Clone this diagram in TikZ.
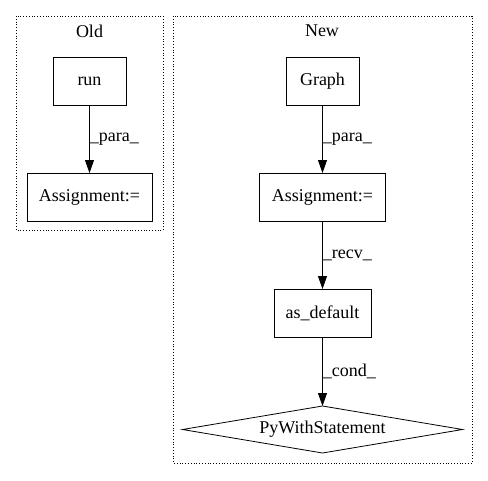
\documentclass[tikz,border=0pt]{standalone}
\usepackage{fontspec}
\setmainfont{Liberation Serif}
\usetikzlibrary{arrows.meta,shapes.geometric}
\tikzset{
  box/.style={draw,thick,outer sep=0,inner sep=1,minimum width=#1,minimum height=48},
  cond/.style={draw,thick,diamond,aspect=6,outer sep=0,inner sep=0,minimum width=280,minimum height=47},
  cluster/.style={draw,thick,dotted},
  elabel/.style={right,inner sep=0,pos=0.5},
  flow/.style={thick,-{Triangle[length=13,width=9]}}
}
\begin{document}
\begin{tikzpicture}[x=1pt,y=-1pt,font=\fontsize{18}{21}\selectfont]
\useasboundingbox (0,0) rectangle (488,480);

\draw [cluster] (16,16) rectangle (163,230);
\node (old) at (89.5,31) {Old};
\draw [cluster] (173,16) rectangle (472,463);
\node (new) at (322,31) {New};

\node [box=73] (run) at (89.5,81) {run};
\node [box=125] (asg1) at (89.5,197) {Assignment:=};
\node [box=73] (graph) at (322.5,81) {Graph};
\node [box=126] (asg2) at (322.5,197) {Assignment:=};
\node [box=97] (asdef) at (322.5,313) {as\_default};
\node [cond] (pywith) at (322.5,429.5) {PyWithStatement};

\draw [flow] (run) -- node [elabel] {\_para\_} (asg1);
\draw [flow] (graph) -- node [elabel] {\_para\_} (asg2);
\draw [flow] (asg2) -- node [elabel] {\_recv\_} (asdef);
\draw [flow] (asdef) -- node [elabel] {\_cond\_} (pywith);
\end{tikzpicture}
\end{document}
